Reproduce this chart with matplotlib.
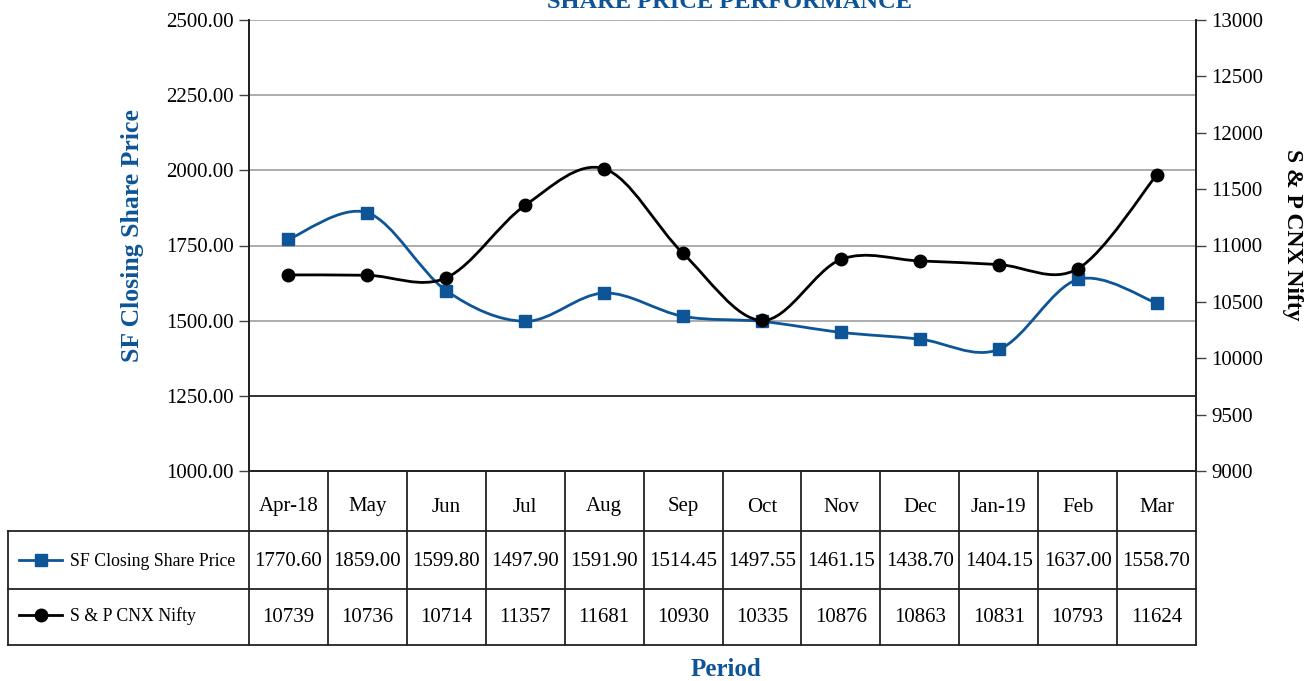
import matplotlib
matplotlib.use("Agg")
import matplotlib.pyplot as plt
import numpy as np
from matplotlib.path import Path
from matplotlib.patches import PathPatch
from matplotlib.transforms import blended_transform_factory

months = ["Apr-18", "May", "Jun", "Jul", "Aug", "Sep", "Oct", "Nov", "Dec", "Jan-19", "Feb", "Mar"]
sf_price = [1770.60, 1859.00, 1599.80, 1497.90, 1591.90, 1514.45, 1497.55, 1461.15, 1438.70, 1404.15, 1637.00, 1558.70]
nifty = [10739, 10736, 10714, 11357, 11681, 10930, 10335, 10876, 10863, 10831, 10793, 11624]
sf_labels = ["1770.60", "1859.00", "1599.80", "1497.90", "1591.90", "1514.45", "1497.55", "1461.15", "1438.70", "1404.15", "1637.00", "1558.70"]
nifty_labels = ["10739", "10736", "10714", "11357", "11681", "10930", "10335", "10876", "10863", "10831", "10793", "11624"]
series_names = ["SF Closing Share Price", "S & P CNX Nifty"]

BLUE = "#0d5597"
FONT = "Liberation Serif"
plt.rcParams['font.family'] = [FONT, 'DejaVu Serif']

W, H = 1307, 681
fig = plt.figure(figsize=(W / 100, H / 100), dpi=100)
L, R, T, B = 249, 1196, 20, 471
ax = fig.add_axes([L / W, 1 - B / H, (R - L) / W, (B - T) / H])
ax2 = ax.twinx()


def smooth_path(xs, ys):
    xs = np.asarray(xs, float)
    ys = np.asarray(ys, float)
    n = len(xs)
    verts = [(xs[0], ys[0])]
    codes = [Path.MOVETO]
    for i in range(n - 1):
        i0 = max(i - 1, 0)
        i3 = min(i + 2, n - 1)
        c1 = (xs[i] + (xs[i + 1] - xs[i0]) / 6, ys[i] + (ys[i + 1] - ys[i0]) / 6)
        c2 = (xs[i + 1] - (xs[i3] - xs[i]) / 6, ys[i + 1] - (ys[i3] - ys[i]) / 6)
        verts += [c1, c2, (xs[i + 1], ys[i + 1])]
        codes += [Path.CURVE4] * 3
    return Path(verts, codes)


x = np.arange(len(months))

# left axis
ax.set_xlim(-0.5, len(months) - 0.5)
ax.set_ylim(1000, 2500)
ax.set_yticks(np.arange(1000, 2501, 250))
ax.set_yticklabels([f"{v:.2f}" for v in np.arange(1000, 2501, 250)])
ax.set_xticks([])
for v in np.arange(1500, 2501, 250):
    ax.axhline(v, color="#a6a6a6", lw=1.3, zorder=1)
ax.axhline(1250, color="#222222", lw=1.3, zorder=1)
ax.patch.set_visible(False)

ax.add_patch(PathPatch(smooth_path(x, sf_price), fill=False, edgecolor=BLUE, lw=2.0, zorder=3))
ax.plot(x, sf_price, ls="none", marker="s", ms=9, color=BLUE, zorder=4)

ax2.set_ylim(9000, 13000)
ax2.set_yticks(np.arange(9000, 13001, 500))
ax2.add_patch(PathPatch(smooth_path(x, nifty), fill=False, edgecolor="black", lw=2.0, zorder=3))
ax2.plot(x, nifty, ls="none", marker="o", ms=9, color="black", zorder=4)

for a in (ax, ax2):
    a.spines["top"].set_visible(False)
    for s in ("left", "right", "bottom"):
        a.spines[s].set_color("#222222")
        a.spines[s].set_linewidth(1.3)
ax.tick_params(axis="y", labelsize=15, length=7, width=1.0, color="#444444", pad=4)
ax2.tick_params(axis="y", labelsize=15, length=7, width=1.0, color="#444444", pad=4)

# axis labels
fig.text(133 / W, 1 - 236 / H, "SF Closing Share Price", rotation=90, ha="center", va="center",
         fontsize=18.5, fontweight="bold", color=BLUE)
fig.text(1293 / W, 1 - 235 / H, "S & P CNX Nifty", rotation=-90, ha="center", va="center",
         fontsize=17, fontweight="bold", color="black")
fig.text(726 / W, 1 - 670 / H, "Period", ha="center", va="center",
         fontsize=18, fontweight="bold", color=BLUE)
fig.text(729 / W, 1 - 8 / H, "SHARE PRICE PERFORMANCE", ha="center", va="baseline",
         fontsize=17.6, fontweight="bold", color=BLUE)

# data table
tab = fig.add_axes([0, 0, 1, 1])
tab.set_xlim(0, W)
tab.set_ylim(H, 0)
tab.axis("off")
tr = blended_transform_factory(ax.transData, tab.transData)
lc = "#222222"
row_y = [471, 531, 589, 645]
for xe in np.arange(len(months) + 1) - 0.5:
    tab.plot([xe, xe], [row_y[0], row_y[3]], color=lc, lw=1.3, transform=tr, clip_on=False)
for yy in row_y[1:]:
    tab.plot([8, R], [yy, yy], color=lc, lw=1.3, clip_on=False)
tab.plot([8, 8], [row_y[1], row_y[3]], color=lc, lw=1.3, clip_on=False)

for i, m in enumerate(months):
    tab.text(i, 507, m, transform=tr, ha="center", va="center", fontsize=15)
    tab.text(i, 561, sf_labels[i], transform=tr, ha="center", va="center", fontsize=15)
    tab.text(i, 617, nifty_labels[i], transform=tr, ha="center", va="center", fontsize=15)

# legend keys
tab.plot([19, 62], [560, 560], color=BLUE, lw=2.0)
tab.plot([40.5], [560], marker="s", ms=8, color=BLUE)
tab.plot([19, 62], [615, 615], color="black", lw=2.0)
tab.plot([40.5], [615], marker="o", ms=9, color="black")
tab.text(70, 561, series_names[0], ha="left", va="center", fontsize=12.8)
tab.text(70, 616, series_names[1], ha="left", va="center", fontsize=12.8)

fig.savefig("out.png", dpi=100)
